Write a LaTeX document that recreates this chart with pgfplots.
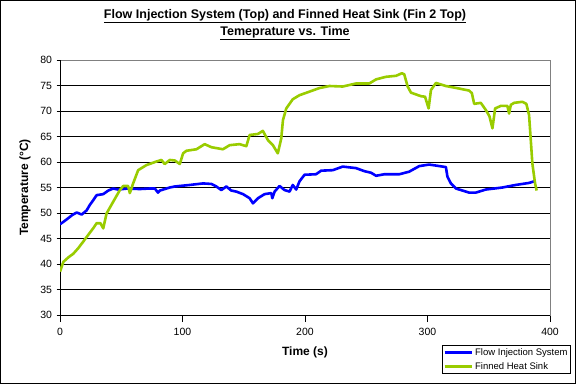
\documentclass[border=0pt]{standalone}
\usepackage{pgfplots}
\pgfplotsset{compat=1.18}
\usepackage{fontspec}
\setmainfont{Liberation Sans}
\definecolor{fblue}{RGB}{0,0,255}
\definecolor{fgreen}{RGB}{153,204,0}
\begin{document}
\begin{tikzpicture}[x=1bp,y=1bp]
\draw[black, line width=1bp] (0.5,0.5) rectangle (575.5,383.5);
\node[font=\fontsize{12.5bp}{17bp}\selectfont\bfseries, align=center] at (285,359.5)
  {\underline{Flow Injection System (Top) and Finned Heat Sink (Fin 2 Top)}\\\underline{Temeprature vs. Time}};
\begin{axis}[
  at={(60bp,69bp)}, anchor=south west,
  width=490bp, height=255bp, scale only axis,
  xmin=0, xmax=400, ymin=30, ymax=80,
  xtick={0,100,...,400}, ytick={30,35,...,80},
  xtick pos=bottom, ytick pos=left,
  xtick align=outside, ytick align=center,
  major tick length=7bp,
  ymajorgrids, major grid style={black, line width=0.9bp},
  axis line style={draw=gray, line width=0.9bp},
  tick style={black, line width=0.9bp},
  /pgf/number format/assume math mode=true,
  ticklabel style={font=\fontsize{10.5bp}{12bp}\selectfont},
  xticklabel style={yshift=-3bp},
  yticklabel style={xshift=-1bp},
  xlabel={Time (s)}, ylabel={Temperature (°C)},
  label style={font=\fontsize{12bp}{14bp}\selectfont\bfseries},
  xlabel style={at={(axis description cs:0.5,0)}, anchor=center, yshift=-37bp},
  ylabel style={at={(axis description cs:0,0.5)}, anchor=center, yshift=35bp},
  legend style={at={(0.779,-0.1176)}, anchor=north west, draw=black, line width=0.9bp,
    font=\fontsize{9.5bp}{10.5bp}\selectfont, inner sep=1bp, row sep=1.5bp,
    nodes={inner sep=2bp}},
  legend cell align=left,
  legend image code/.code={\draw[#1, line width=3bp] (0bp,0bp) -- (27bp,0bp);},
]
\draw[black, line width=0.9bp] (rel axis cs:0,1) -- (rel axis cs:0,0) -- (rel axis cs:1,0);
\addplot[fblue, line width=2.6bp, line join=round] coordinates {
(0,47.8) (3,48.3) (6.8,49.0) (10,49.6) (13.6,50.1) (17.7,49.7) (21.7,50.5) (24.4,51.6)
(27.1,52.5) (29.9,53.5) (35.3,53.7) (39.4,54.4) (43.4,54.8) (47.5,54.6) (55,54.8) (65,54.7)
(73,54.8) (77.4,54.8) (80,54.0) (81.5,54.4) (89.6,55.0) (93.7,55.2) (106,55.5) (116.7,55.8)
(123.6,55.7) (127.6,55.2) (131.7,54.5) (135.8,55.2) (139.8,54.4) (143.9,54.2) (149.4,53.7)
(154.8,52.9) (157.5,51.9) (161.6,52.9) (167,53.7) (172.5,53.9) (173.3,52.9) (175.2,54.2)
(179.2,55.3) (183.3,54.5) (187.4,54.2) (190,55.5) (192.8,54.6) (195.5,56.2) (199.6,57.5)
(209,57.6) (213.2,58.3) (222.7,58.4) (230.8,59.1) (241.7,58.8) (248.5,58.2) (253.9,57.9)
(258,57.3) (264.8,57.6) (277,57.6) (285,58.1) (293.3,59.2) (301.4,59.5) (309.6,59.2)
(315,59.0) (316.3,57.1) (319.1,55.8) (323.2,54.8) (334,54.0) (339.4,54.0) (347.6,54.6)
(361.1,55.0) (372,55.5) (382.9,55.9) (388.3,56.3)
};
\addlegendentry{Flow Injection System}
\addplot[fgreen, line width=2.6bp, line join=round] coordinates {
(0,38.5) (2.7,40.4) (6.8,41.3) (10.8,42.0) (14.9,43.1) (19,44.4) (23,45.7) (27.1,47.0)
(29.9,48.0) (33,48.0) (35.3,47.0) (38,49.9) (43.4,52.2) (48.9,54.5) (51.6,55.3) (55.6,55.3)
(57,53.9) (59.7,55.8) (63.8,58.4) (70.6,59.4) (78.8,60.1) (82.8,60.4) (85.5,59.6) (89.6,60.4)
(93.7,60.3) (97.8,59.6) (100.5,61.7) (103.2,62.2) (111.4,62.5) (118.1,63.5) (123.6,62.9)
(133,62.5) (138.5,63.3) (146.6,63.5) (152.1,63.1) (154.8,65.3) (161.6,65.5) (165.6,66.1)
(169.7,64.3) (173.8,63.3) (177.8,61.7) (180.6,64.6) (182,68.2) (184.7,70.5) (190,72.3)
(195.5,73.1) (203.7,73.8) (211.8,74.5) (220,74.9) (230.8,74.8) (241.7,75.4) (252.5,75.4)
(258,76.2) (266,76.7) (274.3,76.9) (279.1,77.4) (281,77.2) (283.8,74.8) (286.5,73.6)
(294.7,72.9) (298,72.8) (300.9,70.5) (302.8,74.1) (306.9,75.5) (315,74.9) (325.9,74.4)
(334,74.0) (336.2,73.5) (338.1,71.4) (343.5,71.6) (347.6,70.2) (350.5,69.0) (353,66.6)
(355.2,70.5) (359.8,71.0) (365.2,71.0) (366.6,69.5) (368,71.2) (370.7,71.6) (377.4,71.8)
(380.7,71.4) (382.9,69.2) (384.3,64.3) (385.6,59.7) (387.8,55.8) (389.1,54.4)
};
\addlegendentry{Finned Heat Sink}
\end{axis}
\end{tikzpicture}
\end{document}
